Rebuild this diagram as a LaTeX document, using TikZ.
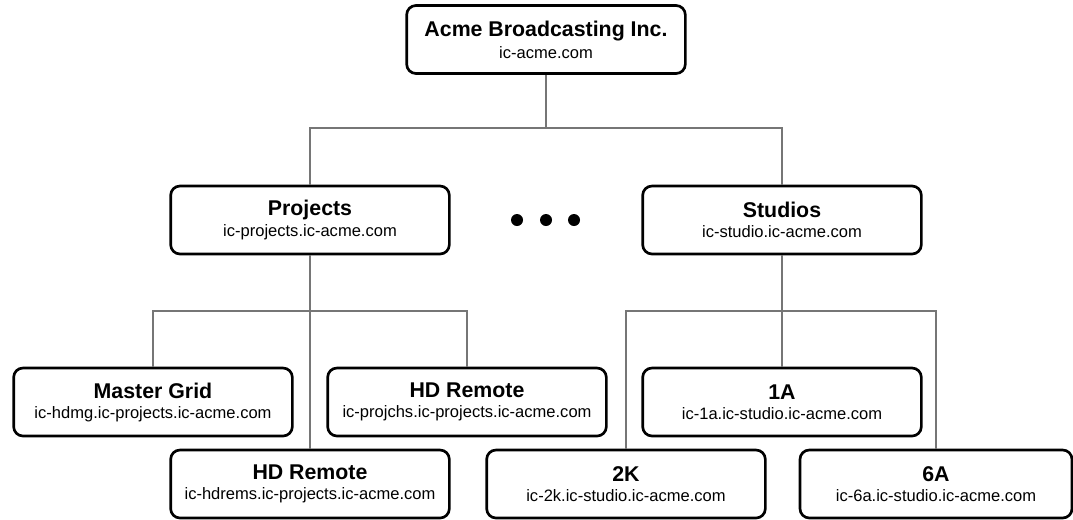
\documentclass[tikz,border=0pt]{standalone}
\usepackage{fontspec}
\setmainfont{Liberation Sans}
\usetikzlibrary{positioning}

\definecolor{linkgray}{RGB}{118,118,118}

\newcommand{\unittext}[2]{{\fontsize{16}{16.5}\selectfont\bfseries #1}\\[3pt]{\fontsize{12.4}{16.5}\selectfont #2}}

\tikzset{
	unit/.style={draw, line width=2pt, rounded corners=7pt, fill=white,
		minimum width=209pt, minimum height=51pt, align=center, inner sep=2pt},
	link/.style={draw=linkgray, line width=0.8pt},
}

\begin{document}
\begin{tikzpicture}[x=0.75pt, y=-0.75pt]
		\useasboundingbox (0,0) rectangle (1073,519);
		
		\node[unit] (acme) at (546, 39.5) {\unittext{Acme Broadcasting Inc.}{ic-acme.com}};
		
		\node[unit] (projects) at (310, 220) {\unittext{Projects}{ic-projects.ic-acme.com}};
		\node[unit] (studios) at (782, 220) {\unittext{Studios}{ic-studio.ic-acme.com}};
		
		\node[unit] (mastergrid) at (153, 402) {\unittext{Master Grid}{ic-hdmg.ic-projects.ic-acme.com}};
		\node[unit] (projchs) at (467, 402) {\unittext{HD Remote}{ic-projchs.ic-projects.ic-acme.com}};
		\node[unit] (onea) at (782, 402) {\unittext{1A}{ic-1a.ic-studio.ic-acme.com}};
		
		\node[unit] (hdrems) at (310, 484) {\unittext{HD Remote}{ic-hdrems.ic-projects.ic-acme.com}};
		\node[unit] (twok) at (626, 484) {\unittext{2K}{ic-2k.ic-studio.ic-acme.com}};
		\node[unit, minimum width=204pt] (sixa) at (936, 484) {\unittext{6A}{ic-6a.ic-studio.ic-acme.com}};
		
		% busses
		\coordinate (topbus) at (546, 128);
		\coordinate (projbus) at (310, 311);
		\coordinate (studbus) at (782, 311);
		
		\draw[link] (acme.south) -- (topbus);
		\draw[link] (projects.north) |- (topbus) -| (studios.north);
		
		\draw[link] (projects.south) -- (hdrems.north);
		\draw[link] (mastergrid.north) |- (projbus) -| (projchs.north);
		
		\draw[link] (studios.south) -- (onea.north);
		\draw[link] (twok.north) |- (studbus) -| (sixa.north);
		
		\fill (517, 220) circle (6) (546, 220) circle (6) (574, 220) circle (6);
	\end{tikzpicture}
\end{document}
